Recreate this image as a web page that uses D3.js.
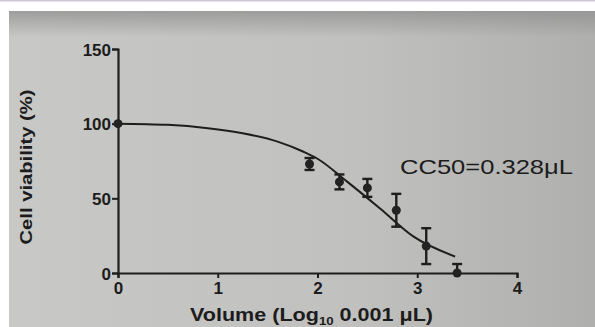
<!DOCTYPE html>
<html>
<head>
<meta charset="utf-8">
<script src="https://cdn.jsdelivr.net/npm/d3@7"></script>
<style>
  html, body { margin: 0; padding: 0; background: #fff; }
  svg { display: block; }
  text { font-family: "Liberation Sans", Arial, sans-serif; fill: #1c1c1c; }
</style>
</head>
<body>
<svg id="chart" width="595" height="327"></svg>
<script>
// measured values (log10 volume vs % viability)
const volumes = [0, 1.92, 2.22, 2.5, 2.79, 3.09, 3.4];
const viability = [100, 73, 61, 57, 42, 18, 0];
const sem = [0, 4, 5, 6, 11, 12, 6];

// fitted curve
const fitX = [0, 0.5, 0.9, 1.25, 1.6, 1.86, 2.0, 2.3, 2.63, 2.96, 3.38];
const fitY = [100, 99.2, 97, 93.6, 88, 81.2, 76.5, 61, 43, 24.5, 11];

const xTicks = [0, 1, 2, 3, 4];
const yTicks = [0, 50, 100, 150];

const svg = d3.select("#chart");

// photo-like background
const defs = svg.append("defs");
const bg = defs.append("linearGradient").attr("id", "bg")
    .attr("x1", 0).attr("x2", 1).attr("y1", 0).attr("y2", 0);
bg.append("stop").attr("offset", 0).attr("stop-color", "#c8c8c6");
bg.append("stop").attr("offset", 0.6).attr("stop-color", "#c0c0be");
bg.append("stop").attr("offset", 1).attr("stop-color", "#afafae");
const topShade = defs.append("linearGradient").attr("id", "topShade")
    .attr("x1", 0).attr("x2", 0).attr("y1", 0).attr("y2", 1);
topShade.append("stop").attr("offset", 0).attr("stop-color", "#8f8f8f").attr("stop-opacity", 0.75);
topShade.append("stop").attr("offset", 1).attr("stop-color", "#8f8f8f").attr("stop-opacity", 0);

svg.append("rect").attr("x", 0).attr("y", 0).attr("width", 595).attr("height", 1.5).attr("fill", "#cdc4dc");
svg.append("rect").attr("x", 9).attr("y", 11).attr("width", 586).attr("height", 316).attr("fill", "url(#bg)");
svg.append("rect").attr("x", 9).attr("y", 11).attr("width", 586).attr("height", 26).attr("fill", "url(#topShade)");

// scales
const x = d3.scaleLinear().domain([0, 4]).range([118, 517]);
const y = d3.scaleLinear().domain([0, 150]).range([273, 49]);

const ink = "#1e1e1e";

// axes
const gx = svg.append("g")
    .attr("transform", `translate(0, ${y(0)})`)
    .call(d3.axisBottom(x).tickValues(xTicks).tickFormat(d3.format("d")).tickSizeOuter(0).tickSize(5).tickPadding(4));
const gy = svg.append("g")
    .attr("transform", `translate(${x(0)}, 0)`)
    .call(d3.axisLeft(y).tickValues(yTicks).tickFormat(d3.format("d")).tickSizeOuter(0).tickSize(6).tickPadding(1));

[gx, gy].forEach(g => {
    g.select(".domain").attr("stroke", ink).attr("stroke-width", 2.2);
    g.selectAll(".tick line").attr("stroke", ink).attr("stroke-width", 2);
    g.selectAll(".tick text")
        .style("font-family", "'Liberation Sans', Arial, sans-serif")
        .style("font-weight", "bold")
        .style("font-size", "17px")
        .attr("fill", ink);
});
gy.selectAll(".tick text").attr("dy", "0.36em");

// fitted curve
const curve = d3.line()
    .x((d, i) => x(d))
    .y((d, i) => y(fitY[i]))
    .curve(d3.curveMonotoneX);
svg.append("path")
    .attr("d", curve(fitX))
    .attr("fill", "none")
    .attr("stroke", ink)
    .attr("stroke-width", 2);

// error bars
const pts = volumes.map((v, i) => ({ x: v, y: viability[i], e: sem[i] }));
const eb = svg.append("g").selectAll("g")
    .data(pts.filter(d => d.e > 0))
    .join("g")
    .attr("stroke", ink)
    .attr("stroke-width", 2.4);
eb.append("line")
    .attr("x1", d => x(d.x)).attr("x2", d => x(d.x))
    .attr("y1", d => y(d.y + d.e)).attr("y2", d => y(Math.max(0, d.y - d.e)));
eb.append("line")
    .attr("x1", d => x(d.x) - 5).attr("x2", d => x(d.x) + 5)
    .attr("y1", d => y(d.y + d.e)).attr("y2", d => y(d.y + d.e));
eb.filter(d => d.y - d.e > 0).append("line")
    .attr("x1", d => x(d.x) - 5).attr("x2", d => x(d.x) + 5)
    .attr("y1", d => y(d.y - d.e)).attr("y2", d => y(d.y - d.e));

// points
svg.append("g").selectAll("circle")
    .data(pts)
    .join("circle")
    .attr("cx", d => x(d.x))
    .attr("cy", d => y(d.y))
    .attr("r", 4.5)
    .attr("fill", "#222");

// axis titles
svg.append("text")
    .attr("transform", "translate(32, 167) rotate(-90)")
    .attr("text-anchor", "middle")
    .attr("textLength", 155)
    .attr("lengthAdjust", "spacingAndGlyphs")
    .style("font-weight", "bold")
    .style("font-size", "17px")
    .text("Cell viability (%)");

const xt = svg.append("text")
    .attr("x", 190)
    .attr("y", 321)
    .attr("textLength", 243)
    .attr("lengthAdjust", "spacingAndGlyphs")
    .style("font-weight", "bold")
    .style("font-size", "18px");
xt.append("tspan").text("Volume (Log");
xt.append("tspan").attr("dy", 4).style("font-size", "11px").text("10");
xt.append("tspan").attr("dy", -4).text(" 0.001 \u03bcL)");

// annotation
svg.append("text")
    .attr("x", 400)
    .attr("y", 174)
    .attr("textLength", 173)
    .attr("lengthAdjust", "spacingAndGlyphs")
    .style("font-size", "21px")
    .attr("fill", "#2a2a2a")
    .text("CC50=0.328\u03bcL");
</script>
</body>
</html>
